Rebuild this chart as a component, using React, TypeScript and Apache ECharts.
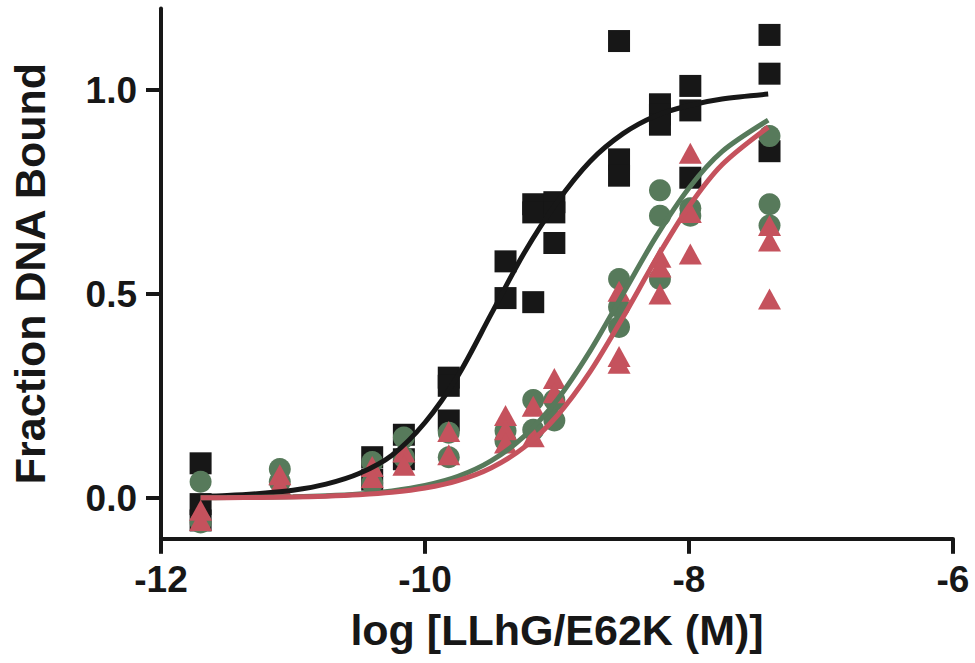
import React, { useEffect, useRef } from "react";
import * as echarts from "echarts";

// concentrations (log M) of the replicate points
const concX = [-11.7, -11.1, -10.4, -10.16, -9.82, -9.39, -9.18, -9.02, -8.53, -8.22, -7.99, -7.39];

// black squares: replicate values per concentration
const blackY: number[][] = [
  [0.085, -0.015, -0.055],
  [],
  [0.1, 0.045],
  [0.155, 0.095],
  [0.295, 0.275, 0.19],
  [0.58, 0.49],
  [0.72, 0.7, 0.48],
  [0.725, 0.7, 0.625],
  [1.12, 0.83, 0.79],
  [0.965, 0.94, 0.915],
  [1.01, 0.95, 0.785],
  [1.135, 1.04, 0.85],
];

// green circles
const greenY: number[][] = [
  [0.04, -0.06],
  [0.071, 0.04],
  [0.088, 0.037],
  [0.148, 0.1],
  [0.16, 0.1],
  [0.165, 0.14],
  [0.24, 0.167],
  [0.24, 0.19],
  [0.537, 0.468, 0.419],
  [0.754, 0.692, 0.537],
  [0.71, 0.692],
  [0.887, 0.72, 0.668],
];

// red triangles
const redY: number[][] = [
  [-0.03, -0.055],
  [0.057, 0.032],
  [0.077, 0.05],
  [0.113, 0.08],
  [0.163, 0.106],
  [0.202, 0.167, 0.135],
  [0.225, 0.15],
  [0.293, 0.258],
  [0.507, 0.347, 0.33],
  [0.59, 0.566, 0.5],
  [0.845, 0.7, 0.598],
  [0.668, 0.63, 0.488],
];

// fitted curves
const curveX = [-11.7, -11.5, -11.25, -11, -10.75, -10.5, -10.25, -10, -9.75, -9.5, -9.25, -9, -8.75, -8.5, -8.25, -8, -7.75, -7.4];
const blackFit = [0.004, 0.006, 0.011, 0.019, 0.034, 0.06, 0.105, 0.185, 0.3, 0.45, 0.6, 0.725, 0.825, 0.893, 0.937, 0.962, 0.978, 0.99];
const greenFit = [0.0006, 0.001, 0.0018, 0.0032, 0.0056, 0.0099, 0.0175, 0.0307, 0.053, 0.091, 0.151, 0.24, 0.36, 0.5, 0.64, 0.76, 0.849, 0.926];
const redFit = [0.0005, 0.0008, 0.0014, 0.0025, 0.0044, 0.0079, 0.0139, 0.0245, 0.0427, 0.0736, 0.124, 0.201, 0.309, 0.443, 0.585, 0.715, 0.817, 0.909];

const yTicks = [0, 0.5, 1.0];
const xTitle = "log [LLhG/E62K (M)]";
const yTitle = "Fraction DNA Bound";

const BLACK = "#171717";
const GREEN = "#577a5b";
const RED = "#c5525d";
const FONT = "Liberation Sans, Arial, sans-serif";

function points(ys: number[][]): number[][] {
  const out: number[][] = [];
  ys.forEach((arr, i) => arr.forEach((v) => out.push([concX[i], v])));
  return out;
}
function curve(vals: number[]): number[][] {
  return curveX.map((x, i) => [x, vals[i]]);
}

export default function App() {
  const ref = useRef<HTMLDivElement>(null);
  useEffect(() => {
    document.body.style.margin = "0";
    const chart = echarts.init(ref.current!, null, { renderer: "svg" });
    const lineSeries = (data: number[][], color: string) => ({
      type: "line",
      data,
      smooth: 0.3,
      showSymbol: false,
      symbol: "none",
      lineStyle: { color, width: 5 },
      silent: true,
    });
    const scatter = (data: number[][], color: string, symbol: string, size: any) => ({
      type: "scatter",
      data,
      symbol,
      symbolSize: size,
      itemStyle: { color, opacity: 1 },
      silent: true,
    });
    chart.setOption({
      animation: false,
      backgroundColor: "#ffffff",
      grid: { left: 158, right: 22, top: 8.4, bottom: 124.2 },
      xAxis: {
        type: "value",
        min: -12,
        max: -6,
        interval: 2,
        name: xTitle,
        nameLocation: "middle",
        nameGap: 70,
        nameTextStyle: { fontFamily: FONT, fontWeight: "bold", fontSize: 43, color: BLACK },
        axisLine: { onZero: false, lineStyle: { color: BLACK, width: 4 } },
        axisTick: { length: 15, lineStyle: { color: BLACK, width: 4 } },
        axisLabel: { margin: 22, fontFamily: FONT, fontWeight: "bold", fontSize: 37, color: BLACK },
        splitLine: { show: false },
      },
      yAxis: {
        type: "value",
        min: -0.1,
        max: 1.2,
        name: yTitle,
        nameLocation: "middle",
        nameGap: 110,
        nameTextStyle: { fontFamily: FONT, fontWeight: "bold", fontSize: 43, color: BLACK },
        axisLine: { onZero: false, lineStyle: { color: BLACK, width: 4 } },
        axisTick: { length: 15, customValues: yTicks, lineStyle: { color: BLACK, width: 4 } },
        axisLabel: {
          margin: 24,
          customValues: yTicks,
          formatter: (v: number) => v.toFixed(1),
          fontFamily: FONT,
          fontWeight: "bold",
          fontSize: 37,
          color: BLACK,
        },
        splitLine: { show: false },
      },
      series: [
        scatter(points(blackY), BLACK, "rect", 22),
        lineSeries(curve(blackFit), BLACK),
        scatter(points(greenY), GREEN, "circle", 22),
        lineSeries(curve(greenFit), GREEN),
        scatter(points(redY), RED, "triangle", [23, 21]),
        lineSeries(curve(redFit), RED),
      ],
    });
    return () => chart.dispose();
  }, []);
  return <div ref={ref} style={{ position: "absolute", left: 0, top: 0, width: 975, height: 663 }} />;
}
